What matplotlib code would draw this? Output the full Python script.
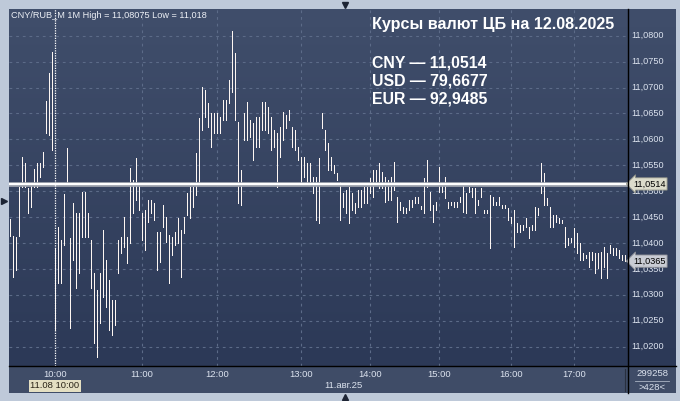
import numpy as np
import matplotlib
matplotlib.use('Agg')
import matplotlib.pyplot as plt
from matplotlib.colors import LinearSegmentedColormap
from matplotlib.lines import Line2D

# --- data: 1-minute CNY/RUB bars (one entry per bar slot) ---
highs = [
    11.0446, 11.0414, 11.0412, 11.0508, 11.0566, 11.0554, 11.0506, 11.0512, 11.0543, 11.0554,
    11.0554, 11.0576, 11.0674, 11.0728, 11.0769, 11.0390, 11.0431, 11.0406, 11.0495, 11.0583,
    11.0410, 11.0477, 11.0458, 11.0458, 11.0498, 11.0498, 11.0458, 11.0406, 11.0342, 11.0309,
    11.0342, 11.0425, 11.0367, 11.0329, 11.0290, 11.0290, 11.0406, 11.0412, 11.0450, 11.0412,
    11.0545, 11.0522, 11.0564, 11.0516, 11.0458, 11.0464, 11.0483, 11.0483, 11.0477, 11.0421,
    11.0421, 11.0473, 11.0450, 11.0415, 11.0412, 11.0421, 11.0448, 11.0425, 11.0450, 11.0497,
    11.0508, 11.0508, 11.0574, 11.0641, 11.0701, 11.0695, 11.0670, 11.0651, 11.0651, 11.0651,
    11.0643, 11.0676, 11.0676, 11.0715, 11.0809, 11.0767, 11.0634, 11.0541, 11.0651, 11.0672,
    11.0637, 11.0632, 11.0643, 11.0643, 11.0672, 11.0672, 11.0663, 11.0643, 11.0618, 11.0612,
    11.0624, 11.0653, 11.0647, 11.0657, 11.0624, 11.0618, 11.0585, 11.0566, 11.0566, 11.0554,
    11.0554, 11.0527, 11.0527, 11.0564, 11.0651, 11.0618, 11.0593, 11.0566, 11.0551, 11.0535,
    11.0518, 11.0497, 11.0502, 11.0508, 11.0497, 11.0477, 11.0502, 11.0502, 11.0508, 11.0508,
    11.0526, 11.0541, 11.0541, 11.0554, 11.0537, 11.0527, 11.0522, 11.0527, 11.0556, 11.0489,
    11.0479, 11.0470, 11.0468, 11.0483, 11.0483, 11.0489, 11.0489, 11.0471, 11.0526, 11.0560,
    11.0498, 11.0473, 11.0479, 11.0547, 11.0516, 11.0527, 11.0479, 11.0479, 11.0479, 11.0479,
    11.0489, 11.0512, 11.0497, 11.0508, 11.0506, 11.0506, 11.0483, 11.0506, 11.0464, 11.0464,
    11.0493, 11.0489, 11.0479, 11.0489, 11.0473, 11.0473, 11.0468, 11.0450, 11.0464, 11.0439,
    11.0435, 11.0435, 11.0448, 11.0431, 11.0435, 11.0470, 11.0468, 11.0554, 11.0535, 11.0487,
    11.0470, 11.0454, 11.0454, 11.0448, 11.0444, 11.0431, 11.0410, 11.0410, 11.0429, 11.0419,
    11.0400, 11.0381, 11.0377, 11.0383, 11.0383, 11.0381, 11.0381, 11.0383, 11.0392, 11.0381,
    11.0396, 11.0390, 11.0390, 11.0387, 11.0377, 11.0377,
]
lows = [
    11.0414, 11.0334, 11.0348, 11.0414, 11.0508, 11.0508, 11.0458, 11.0470, 11.0508, 11.0508,
    11.0527, 11.0547, 11.0612, 11.0608, 11.0580, 11.0232, 11.0323, 11.0323, 11.0396, 11.0512,
    11.0236, 11.0367, 11.0313, 11.0342, 11.0412, 11.0412, 11.0412, 11.0313, 11.0207, 11.0180,
    11.0246, 11.0296, 11.0277, 11.0232, 11.0222, 11.0242, 11.0342, 11.0381, 11.0392, 11.0361,
    11.0400, 11.0458, 11.0483, 11.0464, 11.0406, 11.0387, 11.0441, 11.0458, 11.0444, 11.0348,
    11.0363, 11.0431, 11.0402, 11.0323, 11.0377, 11.0396, 11.0400, 11.0334, 11.0419, 11.0454,
    11.0448, 11.0470, 11.0493, 11.0516, 11.0618, 11.0643, 11.0624, 11.0585, 11.0612, 11.0612,
    11.0612, 11.0637, 11.0637, 11.0670, 11.0691, 11.0637, 11.0477, 11.0473, 11.0599, 11.0599,
    11.0605, 11.0560, 11.0585, 11.0585, 11.0618, 11.0618, 11.0612, 11.0580, 11.0585, 11.0508,
    11.0566, 11.0599, 11.0622, 11.0637, 11.0585, 11.0580, 11.0560, 11.0516, 11.0527, 11.0516,
    11.0516, 11.0497, 11.0444, 11.0439, 11.0622, 11.0580, 11.0541, 11.0541, 11.0535, 11.0522,
    11.0444, 11.0470, 11.0458, 11.0439, 11.0464, 11.0458, 11.0470, 11.0470, 11.0477, 11.0477,
    11.0497, 11.0489, 11.0516, 11.0506, 11.0506, 11.0479, 11.0483, 11.0483, 11.0502, 11.0441,
    11.0464, 11.0458, 11.0458, 11.0464, 11.0470, 11.0477, 11.0477, 11.0466, 11.0458, 11.0508,
    11.0464, 11.0441, 11.0464, 11.0498, 11.0498, 11.0487, 11.0468, 11.0473, 11.0470, 11.0470,
    11.0479, 11.0460, 11.0458, 11.0498, 11.0489, 11.0458, 11.0473, 11.0489, 11.0458, 11.0458,
    11.0390, 11.0473, 11.0473, 11.0473, 11.0468, 11.0468, 11.0444, 11.0439, 11.0392, 11.0421,
    11.0421, 11.0425, 11.0431, 11.0410, 11.0425, 11.0425, 11.0454, 11.0497, 11.0473, 11.0473,
    11.0431, 11.0431, 11.0441, 11.0439, 11.0439, 11.0392, 11.0396, 11.0402, 11.0392, 11.0381,
    11.0367, 11.0367, 11.0371, 11.0354, 11.0367, 11.0342, 11.0352, 11.0332, 11.0354, 11.0332,
    11.0381, 11.0377, 11.0377, 11.0371, 11.0367, 11.0365,
]
hour_bars = [15, 44, 69, 97, 120, 143, 167, 188]
hour_labels = ['10:00', '11:00', '12:00', '13:00', '14:00', '15:00', '16:00', '17:00']
price_levels = [11.020, 11.025, 11.030, 11.035, 11.040, 11.045, 11.050,
                11.055, 11.060, 11.065, 11.070, 11.075, 11.080]
cb_rate = 11.0514
last_price = 11.0365
cursor_bar = 15
cb_title = 'Курсы валют ЦБ на 12.08.2025'
cb_currencies = ['CNY', 'USD', 'EUR']
cb_values = ['11,0514', '79,6677', '92,9485']

plt.rcParams['font.family'] = ['Liberation Sans', 'DejaVu Sans']

W, H = 680, 401
fig = plt.figure(figsize=(W / 100, H / 100), dpi=100, facecolor='#bec9d9')


def px_box(x0, y0, x1, y1):
    # pixel rect (top-left origin) -> figure fraction rect
    return [x0 / W, 1 - y1 / H, (x1 - x0) / W, (y1 - y0) / H]


def fx(x):
    return x / W


def fy(y):
    return 1 - y / H


# --- backgrounds ---
bg = fig.add_axes(px_box(9, 9, 676, 366))
grad = LinearSegmentedColormap.from_list('bg', ['#2c3957', '#404e6b'])
bg.imshow(np.linspace(0, 1, 256).reshape(-1, 1), cmap=grad, origin='lower',
          aspect='auto', extent=[0, 1, 0, 1])
bg.set_axis_off()

tp = fig.add_axes(px_box(9, 366, 676, 393))
tp.set_facecolor('#3f4c67')
tp.set_xticks([])
tp.set_yticks([])
for s in tp.spines.values():
    s.set_visible(False)

# --- main price axes ---
ax = fig.add_axes(px_box(9, 9, 628, 366))
ax.patch.set_alpha(0)
ax.set_xlim(-1 / 3, 206)
ax.set_ylim(11.01626, 11.08516)
for s in ax.spines.values():
    s.set_visible(False)
ax.set_xticks([])
ax.set_yticks([])

grid_kw = dict(color='#5c6b88', lw=0.8, ls=(0, (2.5, 3.5)), zorder=1)
for p in price_levels:
    ax.axhline(p, **grid_kw)
for b in hour_bars[1:]:
    ax.axvline(b, **grid_kw)

x = np.arange(len(highs))
ax.vlines(x, lows, highs, color='#fdf6f2', lw=0.6, antialiased=False, zorder=3)

ax.axhline(cb_rate, color='#a3a8b2', lw=3.4, zorder=4)
ax.axhline(cb_rate, color='white', lw=1.5, zorder=5)
ax.axvline(cursor_bar, color='white', lw=0.9, ls=(0, (1, 1)), zorder=6)

# price scale on the right
ytr = ax.get_yaxis_transform()
for p in price_levels:
    ax.text(1.0055, p, f'{p:.4f}'.replace('.', ','), transform=ytr, ha='left',
            va='center', fontsize=6.6, color='#dbe2ee', clip_on=False)
ax.text(1.008, cb_rate, f'{cb_rate:.4f}'.replace('.', ','), transform=ytr,
        ha='left', va='center', fontsize=6.6, color='black', clip_on=False, zorder=10,
        bbox=dict(boxstyle='larrow,pad=0.18', fc='#dcdccb', ec='#8d8f86', lw=0.6))
ax.text(1.008, last_price, f'{last_price:.4f}'.replace('.', ','), transform=ytr,
        ha='left', va='center', fontsize=6.6, color='black', clip_on=False, zorder=10,
        bbox=dict(boxstyle='larrow,pad=0.18', fc='#c9ccd4', ec='#8d8f96', lw=0.6))

# time scale
xtr = ax.get_xaxis_transform()
for b, lab in zip(hour_bars, hour_labels):
    ax.text(b, -0.023, lab, transform=xtr, ha='center', va='center',
            fontsize=6.8, color='#dbe2ee', clip_on=False)
ax.text(cursor_bar, -0.056, '11.08 10:00', transform=xtr, ha='center', va='center',
        fontsize=6.8, color='#2a2418', clip_on=False, zorder=10,
        bbox=dict(boxstyle='square,pad=0.2', fc='#e4dfc2', ec='none'))
fig.text(fx(343), fy(385), '11.авг.25', ha='center', va='center', fontsize=6.8,
         color='#dbe2ee')

# panel separators
fig.add_artist(Line2D([fx(628), fx(628)], [fy(9), fy(393)], color='black', lw=1.0))
fig.add_artist(Line2D([fx(9), fx(676)], [fy(366), fy(366)], color='black', lw=1.0))
fig.add_artist(Line2D([fx(625), fx(625)], [fy(369), fy(391)], color='#29303f', lw=0.8))

# corner counter
fig.text(fx(652), fy(374), '299258', ha='center', va='center', fontsize=6.8, color='#dbe2ee')
fig.add_artist(Line2D([fx(635), fx(669)], [fy(380.5), fy(380.5)], color='#aab3c4', lw=0.6))
fig.text(fx(652), fy(387), '>428<', ha='center', va='center', fontsize=6.8, color='#dbe2ee')

# header
fig.text(fx(11), fy(15), 'CNY/RUB_M 1M High = 11,08075 Low = 11,018', ha='left',
         va='center', fontsize=6.6, color='#edf0f6')
fig.text(fx(372), fy(29), cb_title, ha='left', va='baseline', fontsize=11.6,
         fontweight='bold', color='white')
for i, (cur, val) in enumerate(zip(cb_currencies, cb_values)):
    fig.text(fx(372), fy(67 + 18.3 * i), f'{cur} — {val}', ha='left', va='baseline',
             fontsize=11.4, fontweight='bold', color='white')
ax.text(0.42, cb_rate - 0.0174, f'{cb_rate:.4f}'.replace('.', ','), transform=ax.transAxes,
        ha='center', va='center', fontsize=15, fontweight='bold', color='#f4f1ee')

# window decorations
for (mx, my, m) in [(345, 4.5, 'v'), (345, 396.5, '^'), (4, 201, '>')]:
    fig.add_artist(Line2D([fx(mx)], [fy(my)], marker=m, ms=5, color='#1d2434', lw=0))

fig.savefig('out.png', dpi=100, facecolor=fig.get_facecolor())
